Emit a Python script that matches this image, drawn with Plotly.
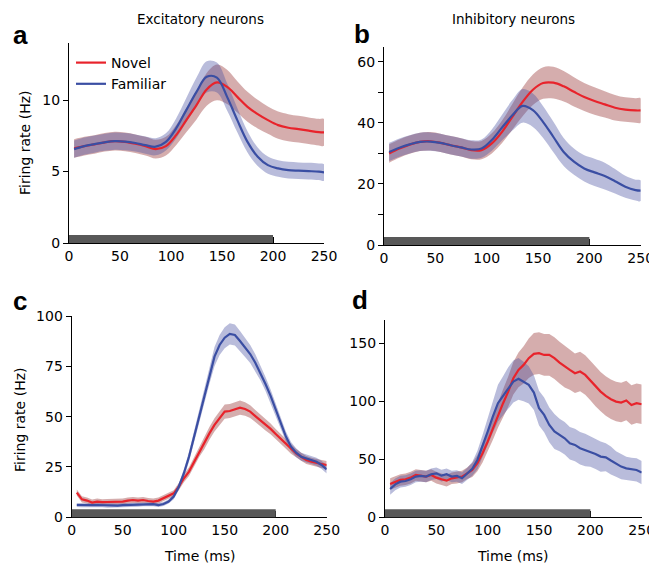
import plotly.graph_objects as go

# page body has an 8px margin; figure is sized to fill the remaining window
PAGE_OFF = 8
W, H = 657 - PAGE_OFF, 566 - PAGE_OFF

# ---------------- data ----------------
T_AB = [5, 15, 25, 35, 45, 55, 65, 75, 85, 95, 105, 115, 125, 135, 145, 155,
        165, 175, 185, 195, 205, 215, 225, 235, 245, 250]
T_CD = list(range(5, 251, 5))

A_NOVEL = [6.62, 6.78, 6.9, 7.05, 7.13, 7.08, 6.95, 6.78, 6.57, 6.78, 7.55, 8.6, 9.65,
           10.75, 11.24, 10.93, 10.23, 9.53, 9.02, 8.6, 8.25, 8.07, 7.97, 7.86, 7.76, 7.74]
A_NOVEL_ERR = [0.65] * 10 + [0.7, 0.85, 1.0, 1.15, 1.25, 1.2, 1.1, 1.05, 1.0, 0.95,
                             0.95, 0.95, 0.93, 0.93, 0.93, 0.93]
A_FAM = [6.57, 6.78, 6.92, 7.05, 7.13, 7.1, 7.0, 6.85, 6.74, 7.08, 8.02, 9.3, 10.58,
         11.63, 11.58, 10.23, 8.6, 7.08, 6.04, 5.45, 5.22, 5.1, 5.06, 5.03, 4.99, 4.94]
A_FAM_ERR = [0.6] * 10 + [0.7, 0.85, 1.0, 1.1, 1.05, 0.95, 0.85, 0.75, 0.65, 0.6,
                          0.58, 0.58, 0.58, 0.58, 0.58, 0.58]

B_NOVEL = [30.0, 31.6, 32.9, 33.8, 34.0, 33.5, 32.7, 32.0, 31.1, 31.1, 33.3, 37.1, 42.0,
           46.9, 50.9, 53.1, 53.2, 52.0, 50.2, 48.5, 47.2, 46.1, 45.0, 44.4, 44.1, 44.1]
B_NOVEL_ERR = [3.0] * 10 + [3.3, 3.7, 4.2, 4.7, 5.0, 5.2, 5.2, 5.0, 4.8, 4.6,
                            4.5, 4.3, 4.2, 4.0, 4.0, 4.0]
B_FAM = [30.5, 31.9, 33.0, 33.8, 33.9, 33.5, 32.7, 32.0, 31.3, 31.6, 34.4, 38.5, 42.5,
         45.6, 44.2, 40.3, 35.4, 30.5, 27.3, 25.1, 23.8, 22.6, 20.9, 19.1, 18.0, 17.8]
B_FAM_ERR = [3.0] * 10 + [3.5, 4.2, 5.0, 5.5, 5.5, 5.2, 5.0, 4.6, 4.3, 4.3,
                          4.5, 4.4, 4.0, 3.6, 3.4, 3.4]

C_NOVEL = [12.3, 8.9, 8.3, 7.3, 7.8, 7.5, 7.6, 7.6, 7.7, 7.8,
           8.3, 8.6, 8.3, 8.6, 8.1, 7.8, 8.3, 9.4, 10.6, 11.9,
           15.2, 19.4, 22.7, 27.6, 32.6, 36.8, 41.7, 45.9, 49.2, 52.5,
           52.8, 53.8, 54.5, 53.8, 52.5, 50.3, 48.3, 45.9, 43.9, 41.4,
           38.9, 36.3, 33.8, 31.8, 30.1, 28.5, 27.6, 27.2, 26.5, 26.0]
C_NOVEL_ERR = [1.5] * 20 + [1.8, 2.0, 2.2, 2.5, 2.7, 3.0, 3.2, 3.3, 3.4, 3.5,
                            3.5, 3.5, 3.5, 3.4, 3.2, 3.0, 2.9, 2.8, 2.7, 2.5,
                            2.4, 2.3, 2.2, 2.1, 2.0, 2.0, 2.0, 2.0, 2.0, 2.0]
C_FAM = [6.1, 6.0, 6.0, 6.0, 6.1, 6.0, 5.8, 5.6, 5.8, 6.0,
         6.1, 6.2, 6.3, 6.5, 6.6, 6.5, 6.1, 6.6, 7.8, 10.3,
         15.2, 21.9, 30.1, 40.1, 50.0, 60.8, 70.7, 79.8, 85.6, 89.2,
         91.1, 90.6, 87.6, 84.4, 81.1, 76.8, 71.9, 66.2, 60.3, 53.3,
         46.7, 40.1, 35.1, 32.1, 30.1, 29.3, 28.5, 27.6, 26.0, 23.8]
C_FAM_ERR = [1.0] * 19 + [1.3, 1.6, 2.0, 2.5, 3.0, 3.5, 4.0, 4.5, 4.8, 5.0, 5.2,
                          5.3, 5.2, 5.0, 4.8, 4.5, 4.2, 3.8, 3.5, 3.2, 3.0,
                          2.8, 2.5, 2.3, 2.2, 2.0, 2.0, 2.0, 2.0, 2.0, 2.0, 2.0]

D_NOVEL = [28.7, 30.7, 32.2, 32.8, 34.2, 36.5, 35.9, 35.1, 36.5, 34.2,
           32.8, 31.6, 33.6, 34.2, 35.1, 37.9, 40.8, 46.6, 55.2, 65.2,
           76.7, 88.2, 98.3, 108.3, 119.8, 127.0, 131.3, 137.1, 140.8, 141.4,
           139.9, 139.9, 137.1, 133.3, 129.9, 127.0, 124.1, 125.6, 122.7, 117.8,
           112.6, 108.3, 104.6, 101.7, 99.7, 98.9, 100.6, 96.8, 98.3, 97.4]
D_NOVEL_ERR = [5] * 16 + [6, 7, 8, 9, 10, 11, 12, 13, 14, 15, 16, 17, 18, 18] + \
              [18, 18, 18, 18, 18, 17, 17, 17, 17, 17, 17, 17, 17, 17, 17, 17, 17, 17, 17, 17]
D_FAM = [24.4, 28.4, 30.7, 31.3, 32.8, 35.1, 35.6, 35.1, 37.1, 37.9,
         35.9, 37.1, 35.1, 35.6, 33.6, 37.4, 41.7, 49.4, 60.9, 73.9,
         86.8, 98.3, 104.6, 111.2, 117.0, 119.3, 117.0, 114.1, 107.5, 94.0,
         88.2, 79.6, 73.9, 71.0, 68.1, 63.8, 62.4, 59.5, 58.0, 56.6,
         54.6, 52.3, 51.7, 48.9, 46.0, 43.7, 42.2, 41.4, 40.8, 38.5]
D_FAM_ERR = [5] * 16 + [6, 8, 10, 12, 14, 16, 17, 18, 18, 18, 17, 16, 15, 15] + \
            [15, 15, 15, 14, 14, 14, 14, 14, 14, 13, 13, 13, 12, 12, 11, 11, 10, 10, 10, 10]

STIM = [0, 200]          # stimulus on period (ms)
X_TICKS = [0, 50, 100, 150, 200, 250]

# ---------------- styles ----------------
RED = "#e8232b"
BLUE = "#3a4ea3"
RED_FILL = "rgba(150,50,50,0.40)"
BLUE_FILL = "rgba(70,80,160,0.38)"
FONT = "DejaVu Sans"

fig = go.Figure()

def fx(px):   # window pixel -> paper x
    return (px - PAGE_OFF) / W

def fy(py):   # window pixel -> paper y
    return 1 - (py - PAGE_OFF) / H

def px_dom(x0, x1, ytop, ybot):
    return [fx(x0), fx(x1)], [fy(ybot), fy(ytop)]

panels = [
    ("x", "y", T_AB, [(A_NOVEL, A_NOVEL_ERR, RED, RED_FILL, "Novel"),
                      (A_FAM, A_FAM_ERR, BLUE, BLUE_FILL, "Familiar")], True,
     px_dom(69, 324, 43, 243), [0, 14], [0, 5, 10], ["0", "5", "10"]),
    ("x2", "y2", T_AB, [(B_NOVEL, B_NOVEL_ERR, RED, RED_FILL, "Novel"),
                        (B_FAM, B_FAM_ERR, BLUE, BLUE_FILL, "Familiar")], True,
     px_dom(384, 640.7, 46.7, 245), [0, 65], [0, 10, 20, 30, 40, 50, 60],
     ["0", "", "20", "", "40", "", "60"]),
    ("x3", "y3", T_CD, [(C_NOVEL, C_NOVEL_ERR, RED, RED_FILL, "Novel"),
                        (C_FAM, C_FAM_ERR, BLUE, BLUE_FILL, "Familiar")], False,
     px_dom(71.7, 326.7, 316, 517.3), [0, 100], [0, 25, 50, 75, 100],
     ["0", "25", "50", "75", "100"]),
    ("x4", "y4", T_CD, [(D_NOVEL, D_NOVEL_ERR, RED, RED_FILL, "Novel"),
                        (D_FAM, D_FAM_ERR, BLUE, BLUE_FILL, "Familiar")], False,
     px_dom(385, 641.7, 320, 517.3), [0, 170], [0, 50, 100, 150],
     ["0", "50", "100", "150"]),
]

layout_axes = {}
shapes = []
for i, (xa, ya, t, series, spline, (xd, yd), yr, tv, tt) in enumerate(panels):
    shape = "spline" if spline else "linear"
    for vals, err, col, fcol, name in series:
        up = [v + e for v, e in zip(vals, err)]
        lo = [v - e for v, e in zip(vals, err)]
        fig.add_trace(go.Scatter(
            x=list(t) + list(t)[::-1], y=up + lo[::-1], fill="toself",
            fillcolor=fcol, line=dict(width=0, shape=shape), mode="lines",
            hoverinfo="skip", showlegend=False, xaxis=xa, yaxis=ya))
    for vals, err, col, fcol, name in series:
        fig.add_trace(go.Scatter(
            x=t, y=vals, mode="lines", name=name,
            line=dict(color=col, width=2.2, shape=shape),
            showlegend=(i == 0), xaxis=xa, yaxis=ya))
    xkey = "xaxis" + ("" if i == 0 else str(i + 1))
    ykey = "yaxis" + ("" if i == 0 else str(i + 1))
    layout_axes[xkey] = dict(
        domain=xd, range=[0, 250], anchor=ya, showline=True, linecolor="black",
        linewidth=1.2, ticks="inside", ticklen=6, tickcolor="black",
        tickvals=X_TICKS, showgrid=False, zeroline=False, automargin=False,
        tickfont=dict(family=FONT, size=14, color="black"))
    layout_axes[ykey] = dict(
        domain=yd, range=yr, anchor=xa, showline=True, linecolor="black",
        linewidth=1.2, ticks="outside", ticklen=5, tickcolor="black",
        tickvals=tv, ticktext=tt, showgrid=False, zeroline=False, automargin=False,
        tickfont=dict(family=FONT, size=14, color="black"))
    shapes.append(dict(type="rect", xref=xa, yref=ya + " domain",
                       x0=STIM[0], x1=STIM[1], y0=0, y1=8 / ((yd[1] - yd[0]) * H),
                       fillcolor="#585858", line=dict(width=0), layer="above"))

annotations = []
def ann(text, x, y, size=14, angle=0, family=FONT):
    annotations.append(dict(
        text=text, x=fx(x), y=fy(y), xref="paper", yref="paper",
        showarrow=False, textangle=angle, xanchor="center", yanchor="middle",
        font=dict(family=family, size=size, color="black")))

ann("Excitatory neurons", 200, 19, 13.5)
ann("Inhibitory neurons", 513, 19, 13.5)
ann("<b>a</b>", 20, 35, 26, family="Liberation Sans")
ann("<b>b</b>", 362, 34, 26, family="Liberation Sans")
ann("<b>c</b>", 20, 301, 26, family="Liberation Sans")
ann("<b>d</b>", 360, 300, 26, family="Liberation Sans")
ann("Firing rate (Hz)", 25, 143, 14, angle=-90)
ann("Firing rate (Hz)", 20, 420, 14, angle=-90)
ann("Time (ms)", 200, 556, 14)
ann("Time (ms)", 513, 556, 14)

fig.update_layout(
    width=W, height=H, margin=dict(l=0, r=0, t=0, b=0),
    paper_bgcolor="white", plot_bgcolor="white",
    shapes=shapes, annotations=annotations,
    legend=dict(x=fx(71), y=fy(47), xanchor="left", yanchor="top",
                bgcolor="rgba(0,0,0,0)", font=dict(family=FONT, size=14, color="black"),
                tracegroupgap=0, itemwidth=30),
    **layout_axes)

fig.write_html("out.html")
